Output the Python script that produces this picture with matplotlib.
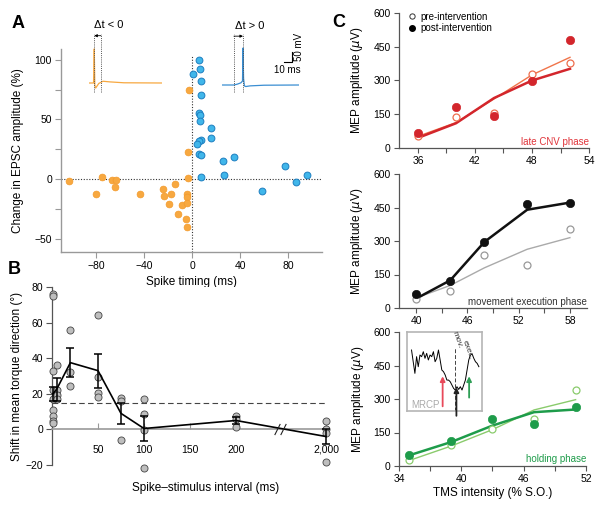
import numpy as np
import matplotlib
matplotlib.use('Agg')
import matplotlib.pyplot as plt
from matplotlib.lines import Line2D

plt.rcParams['font.family'] = ['Liberation Sans', 'DejaVu Sans']
plt.rcParams['font.size'] = 7.5

W, H = 603, 508


def px_rect(x0, y0, x1, y1):
    return [x0 / W, 1 - y1 / H, (x1 - x0) / W, (y1 - y0) / H]


# ---------------- Panel A data (spike timing vs EPSC change)
a_neg_x = [-102.5, -80, -75, -67, -63, -64, -43, -24, -23.6, -17.5, -14.4,
           -19, -8, -4, -4, -4, -3, -3.3, -2.5, -12, -5, -4]
a_neg_y = [-1.4, -12.6, 2.2, -0.3, -1, -6.7, -12.6, -8.4, -14, -12.6, -4.2,
           -21, -22, -12.6, -15, -19.6, 0.6, 23, 75, -29, -33, -40]
a_pos_x = [5.6, 6.7, 1.1, 7.2, 7.2, 5.6, 6.7, 6.9, 16, 15.8, 7.2, 5.8, 3.9,
           5.6, 7.5, 26, 35, 26.7, 7.2, 57.8, 77, 86.7, 95.8]
a_pos_y = [99.7, 92.5, 87.7, 82.4, 70.7, 55.6, 53.6, 48.6, 42.5, 34.6, 33,
           31.8, 29.6, 21.2, 20, 15.4, 18.7, 3.6, 2.2, -9.5, 10.9, -2.5, 3.9]

# example traces (ms, mV)
tr_neg_t = [0, 6.5, 7.5, 8.3, 9.5, 11, 14, 20, 30, 50, 104]
tr_neg_v = [-70, -70, 85, -80, -93, -86, -72, -62, -65, -69, -70]
tr_pos_t = [0, 17, 22, 27, 29.3, 30, 30.8, 32, 34, 40, 60, 110]
tr_pos_v = [-70, -70, -66, -60, -52, 98, -40, -74, -77, -74, -71, -70]

# ---------------- Panel B data
b_intervals = [1, 5, 20, 50, 75, 100, 200, 2000]
b_means = [20, 22.5, 37.5, 33, 9, 0.5, 5, -4]
b_sems = [4, 6.5, 8, 9.5, 6, 7, 1.7, 4]
b_points = {
    1: [76, 75, 33, 22.4, 16.8, 11, 7.3, 5, 3.5],
    5: [36, 22, 19.5, 17],
    20: [56, 32, 24.5],
    50: [64, 29.4, 20.4, 18],
    75: [17.4, 16, -5.8],
    100: [17.2, 8.4, -0.6, -21.5],
    200: [7.5, 6, 1.3],
    2000: [5, 0, -2, -18.5],
}
b_threshold = 15
b_ticks = [50, 100, 150, 200, 2000]
b_ticklabels = ['50', '100', '150', '200', '2,000']


def brk(v):
    # broken axis: 2,000 ms drawn right after the break
    v = np.asarray(v, dtype=float)
    return np.where(v > 250, 298 + (v - 2000) * 0.01, v)


# ---------------- Panel C data (recruitment curves)
c1_x = [36, 40, 44, 48, 52]
c1_pre = [54, 137, 154, 328, 379]
c1_post = [66, 181, 141, 297, 478]
c1_pre_fit = [52, 113, 218, 325, 403]
c1_post_fit = [45, 110, 222, 300, 352]

c2_x = [40, 44, 48, 53, 58]
c2_pre = [42, 76, 239, 193, 354]
c2_post = [64, 122, 296, 466, 472]
c2_pre_fit = [45, 101, 180, 263, 315]
c2_post_fit = [42, 124, 296, 440, 472]

c3_x = [35, 39, 43, 47, 51]
c3_pre = [28, 92, 166, 211, 340]
c3_post = [48, 110, 211, 187, 262]
c3_pre_fit = [25, 89, 163, 251, 297]
c3_post_fit = [48, 107, 181, 241, 253]

mrcp = [0.772, 0.624, 0.477, 0.688, 0.561, 0.709, 0.688, 0.751, 0.667, 0.730,
        0.646, 0.709, 0.688, 0.751, 0.624, 0.667, 0.772, 0.646, 0.519, 0.498,
        0.456, 0.392, 0.392, 0.371, 0.329, 0.287, 0.266, 0.308, 0.274, 0.308,
        0.266, 0.329, 0.392, 0.519, 0.646, 0.709, 0.722, 0.667, 0.624, 0.603,
        0.561]

ORANGE = '#F7A840'
BLUE = '#40B6EA'
BLUE_E = '#1E7FC0'

fig = plt.figure(figsize=(6.03, 5.08), dpi=100)

# ================= Panel A
axA = fig.add_axes(px_rect(61, 49, 322, 252))
axA.set_xlim(-109, 108)
axA.set_ylim(-61, 109)
for s in ['top', 'right']:
    axA.spines[s].set_visible(False)
for s in ['left', 'bottom']:
    axA.spines[s].set_color('#999999')
    axA.spines[s].set_linewidth(1)
axA.tick_params(colors='#999999', labelcolor='k', length=4, width=0.8,
                pad=2.5, labelsize=7.5)
axA.tick_params(which='minor', colors='#999999', length=4, width=0.8)
axA.set_xticks([-80, -40, 0, 40, 80])
axA.set_xticklabels(['\u221280', '\u221240', '0', '40', '80'])
axA.set_yticks([-50, 0, 50, 100])
axA.set_yticklabels(['\u221250', '0', '50', '100'])
axA.set_yticks([-25, 25, 75], minor=True)
axA.axhline(0, ls=(0, (1, 1.5)), color='#333333', lw=0.8, zorder=1)
axA.plot([0, 0], [-61, 103], ls=(0, (1, 1.5)), color='#333333', lw=0.8, zorder=1)
axA.scatter(a_neg_x, a_neg_y, s=24, fc=ORANGE, ec='#F39A2A', lw=0.5, zorder=3)
axA.scatter(a_pos_x, a_pos_y, s=24, fc=BLUE, ec=BLUE_E, lw=0.7, zorder=3)
axA.set_xlabel('Spike timing (ms)', fontsize=8.5)
axA.xaxis.set_label_coords(0.5, -0.118)
axA.xaxis.label.set_va('top')
axA.set_ylabel('Change in EPSC amplitude (%)', fontsize=8.5)
axA.yaxis.set_label_coords(-0.142, 0.5)

# example traces above panel A
PX_MS, PX_MV = 0.7, 0.22


def trace_axes(x0, base_py, tmax):
    ax = fig.add_axes(px_rect(x0, 20, x0 + tmax * PX_MS, 100))
    ax.set_xlim(0, tmax)
    ax.set_ylim(-70 - (100 - base_py) / PX_MV, -70 + (base_py - 20) / PX_MV)
    ax.axis('off')
    return ax


tn = trace_axes(89, 83, 104)
tn.plot(tr_neg_t, tr_neg_v, color=ORANGE, lw=0.9)
tn.vlines([7.5, 17], -110, 152, colors='#555555', linestyles=(0, (1, 1.2)), lw=0.7)
tn.annotate('', xy=(7.5, 145), xytext=(17, 145),
            arrowprops=dict(arrowstyle='-|>', lw=0.6, color='k',
                            mutation_scale=4, shrinkA=0, shrinkB=0))
tn.text(28, 178, '\u0394t < 0', ha='center', va='baseline', fontsize=8, clip_on=False)

tp = trace_axes(222, 85, 110)
tp.plot(tr_pos_t, tr_pos_v, color='#3A8ED2', lw=0.9)
tp.vlines([17, 30], -102, 162, colors='#555555', linestyles=(0, (1, 1.2)), lw=0.7)
tp.annotate('', xy=(30, 152), xytext=(17, 152),
            arrowprops=dict(arrowstyle='-|>', lw=0.6, color='k',
                            mutation_scale=4, shrinkA=0, shrinkB=0))
tp.text(40, 186, '\u0394t > 0', ha='center', va='baseline', fontsize=8, clip_on=False)
tp.plot([88, 100, 100], [34, 34, 82], color='k', lw=0.8, clip_on=False)
tp.text(93, 22, '10 ms', ha='center', va='top', fontsize=7, clip_on=False)
tp.text(103, 103, '50 mV', ha='left', va='center', rotation=90, fontsize=7,
        clip_on=False)

# ================= Panel B
axB = fig.add_axes(px_rect(52, 287, 327, 465))
axB.set_xlim(0, 299)
axB.set_ylim(-20, 80)
for s in ['top', 'right']:
    axB.spines[s].set_visible(False)
axB.spines['left'].set_color('#555555')
axB.spines['left'].set_linewidth(0.9)
axB.spines['bottom'].set_position(('data', 0))
axB.spines['bottom'].set_color('#999999')
axB.spines['bottom'].set_linewidth(1.2)
axB.set_yticks([-20, 0, 20, 40, 60, 80])
axB.set_yticklabels(['\u221220', '0', '20', '40', '60', '80'])
axB.tick_params(axis='y', colors='#555555', labelcolor='k', length=4,
                width=0.8, pad=2.5, labelsize=7.5)
axB.set_xticks(brk(b_ticks))
axB.set_xticklabels(b_ticklabels)
axB.tick_params(axis='x', colors='#999999', labelcolor='k', length=4,
                width=0.8, direction='in', pad=11, labelsize=7.5)
axB.axhline(b_threshold, ls=(0, (5, 3)), color='#444444', lw=0.8, zorder=1)
for k, vals in b_points.items():
    axB.scatter(brk([k] * len(vals)), vals, s=26, fc='#BEBEBE', ec='#444444',
                lw=0.6, zorder=3, clip_on=False)
axB.errorbar(brk(b_intervals), b_means, yerr=b_sems, color='k', lw=1.2,
             elinewidth=1.1, capsize=3, capthick=1.1, zorder=4, clip_on=False)
axB.plot([245, 251], [0, 0], ls='none', marker=[(-1, -2), (1, 2)], ms=8,
         mew=0.8, color='#222222', zorder=5)
axB.set_xlabel('Spike\u2013stimulus interval (ms)', fontsize=8.5)
axB.xaxis.set_label_coords(0.56, -0.0955)
axB.xaxis.label.set_va('top')
axB.set_ylabel('Shift in mean torque direction (\u00b0)', fontsize=8.5)
axB.yaxis.set_label_coords(-0.105, 0.5)

# ================= Panel C


def style_c(ax, xlim, major, minor):
    ax.set_xlim(*xlim)
    ax.set_ylim(0, 600)
    for s in ['top', 'right']:
        ax.spines[s].set_visible(False)
    for s in ['left', 'bottom']:
        ax.spines[s].set_color('#555555')
        ax.spines[s].set_linewidth(0.9)
    ax.set_xticks(major)
    ax.set_xticks(minor, minor=True)
    ax.set_yticks([0, 150, 300, 450, 600])
    ax.tick_params(which='both', colors='#555555', labelcolor='k', length=3.5,
                   width=0.8, pad=2.5, labelsize=7.5)
    ax.set_ylabel('MEP amplitude ($\\mu$V)', fontsize=8.5)
    ax.yaxis.set_label_coords(-0.179, 0.5)


def curves(ax, x, pre, post, pre_fit, post_fit, c_post, c_pre, c_pre_line):
    ax.plot(x, pre_fit, color=c_pre_line, lw=1.0, zorder=2)
    ax.plot(x, post_fit, color=c_post, lw=1.8, zorder=2)
    ax.plot(x, pre, ls='none', marker='o', ms=5, mfc='white', mec=c_pre,
            mew=0.9, zorder=3, clip_on=False)
    ax.plot(x, post, ls='none', marker='o', ms=6, mfc=c_post, mec=c_post,
            mew=0.5, zorder=4, clip_on=False)


axC1 = fig.add_axes(px_rect(399, 13, 589, 148))
style_c(axC1, (34, 54), [36, 42, 48, 54], [39, 45, 51])
curves(axC1, c1_x, c1_pre, c1_post, c1_pre_fit, c1_post_fit,
       '#D3262C', '#EE6E4E', '#F0744A')
axC1.text(1.0, 0.045, 'late CNV phase', transform=axC1.transAxes, ha='right',
          va='center', fontsize=7, color='#E0343A')
handles = [Line2D([], [], ls='none', marker='o', ms=3.8, mfc='white',
                  mec='#333333', mew=0.7),
           Line2D([], [], ls='none', marker='o', ms=4, mfc='k', mec='k')]
axC1.legend(handles, ['pre-intervention', 'post-intervention'],
            loc='upper left', bbox_to_anchor=(0.0, 1.06), frameon=False,
            fontsize=7, handletextpad=0.3, handlelength=1.2, labelspacing=0.15,
            borderpad=0.2)

axC2 = fig.add_axes(px_rect(399, 174, 587, 308))
style_c(axC2, (38, 60), [40, 46, 52, 58], [43, 49, 55])
curves(axC2, c2_x, c2_pre, c2_post, c2_pre_fit, c2_post_fit,
       '#111111', '#999999', '#AAAAAA')
axC2.text(1.0, 0.045, 'movement execution phase', transform=axC2.transAxes,
          ha='right', va='center', fontsize=7, color='#333333')

axC3 = fig.add_axes(px_rect(399, 332, 586, 466))
style_c(axC3, (34, 52), [34, 40, 46, 52], [37, 43, 49])
curves(axC3, c3_x, c3_pre, c3_post, c3_pre_fit, c3_post_fit,
       '#1E9C4A', '#8ACB6C', '#8ACB6C')
axC3.text(1.0, 0.05, 'holding phase', transform=axC3.transAxes, ha='right',
          va='center', fontsize=7, color='#1E9C4A')
axC3.set_xlabel('TMS intensity (% S.O.)', fontsize=8.5)
axC3.xaxis.set_label_coords(0.5, -0.157)
axC3.xaxis.label.set_va('top')

# MRCP inset
ins = axC3.inset_axes([0.043, 0.41, 0.40, 0.59])
ins.set_xlim(0, 1)
ins.set_ylim(0, 1)
ins.set_xticks([])
ins.set_yticks([])
for s in ins.spines.values():
    s.set_color('#B5B5B5')
    s.set_linewidth(1.2)
ins.plot(np.linspace(0.06, 0.96, len(mrcp)), mrcp, color='k', lw=0.7)
ins.plot([0.64, 0.64], [0.0, 0.8], ls=(0, (4, 2)), color='#444444', lw=0.7)
ins.text(0.66, 0.90, 'mov.', rotation=-70, ha='center', va='center',
         fontsize=6, color='#333333')
ins.text(0.81, 0.77, 'exec.', rotation=-70, ha='center', va='center',
         fontsize=6, color='#333333')
for ux, v0, v1, col in [(0.476, 0.06, 0.44, '#E8495A'),
                        (0.66, -0.06, 0.30, '#222222'),
                        (0.83, 0.17, 0.44, '#2E9E55')]:
    ins.annotate('', xy=(ux, v1), xytext=(ux, v0),
                 arrowprops=dict(arrowstyle='-|>', lw=1.3, color=col,
                                 mutation_scale=7, shrinkA=0, shrinkB=0),
                 annotation_clip=False)
ins.text(0.06, 0.08, 'MRCP', ha='left', va='center', fontsize=7, color='#AAAAAA')

# panel letters
fig.text(12 / W, 1 - 28 / H, 'A', fontsize=13, fontweight='bold', va='baseline')
fig.text(8 / W, 1 - 274 / H, 'B', fontsize=13, fontweight='bold', va='baseline')
fig.text(332 / W, 1 - 27 / H, 'C', fontsize=13, fontweight='bold', va='baseline')

fig.savefig('out.png', dpi=100)
